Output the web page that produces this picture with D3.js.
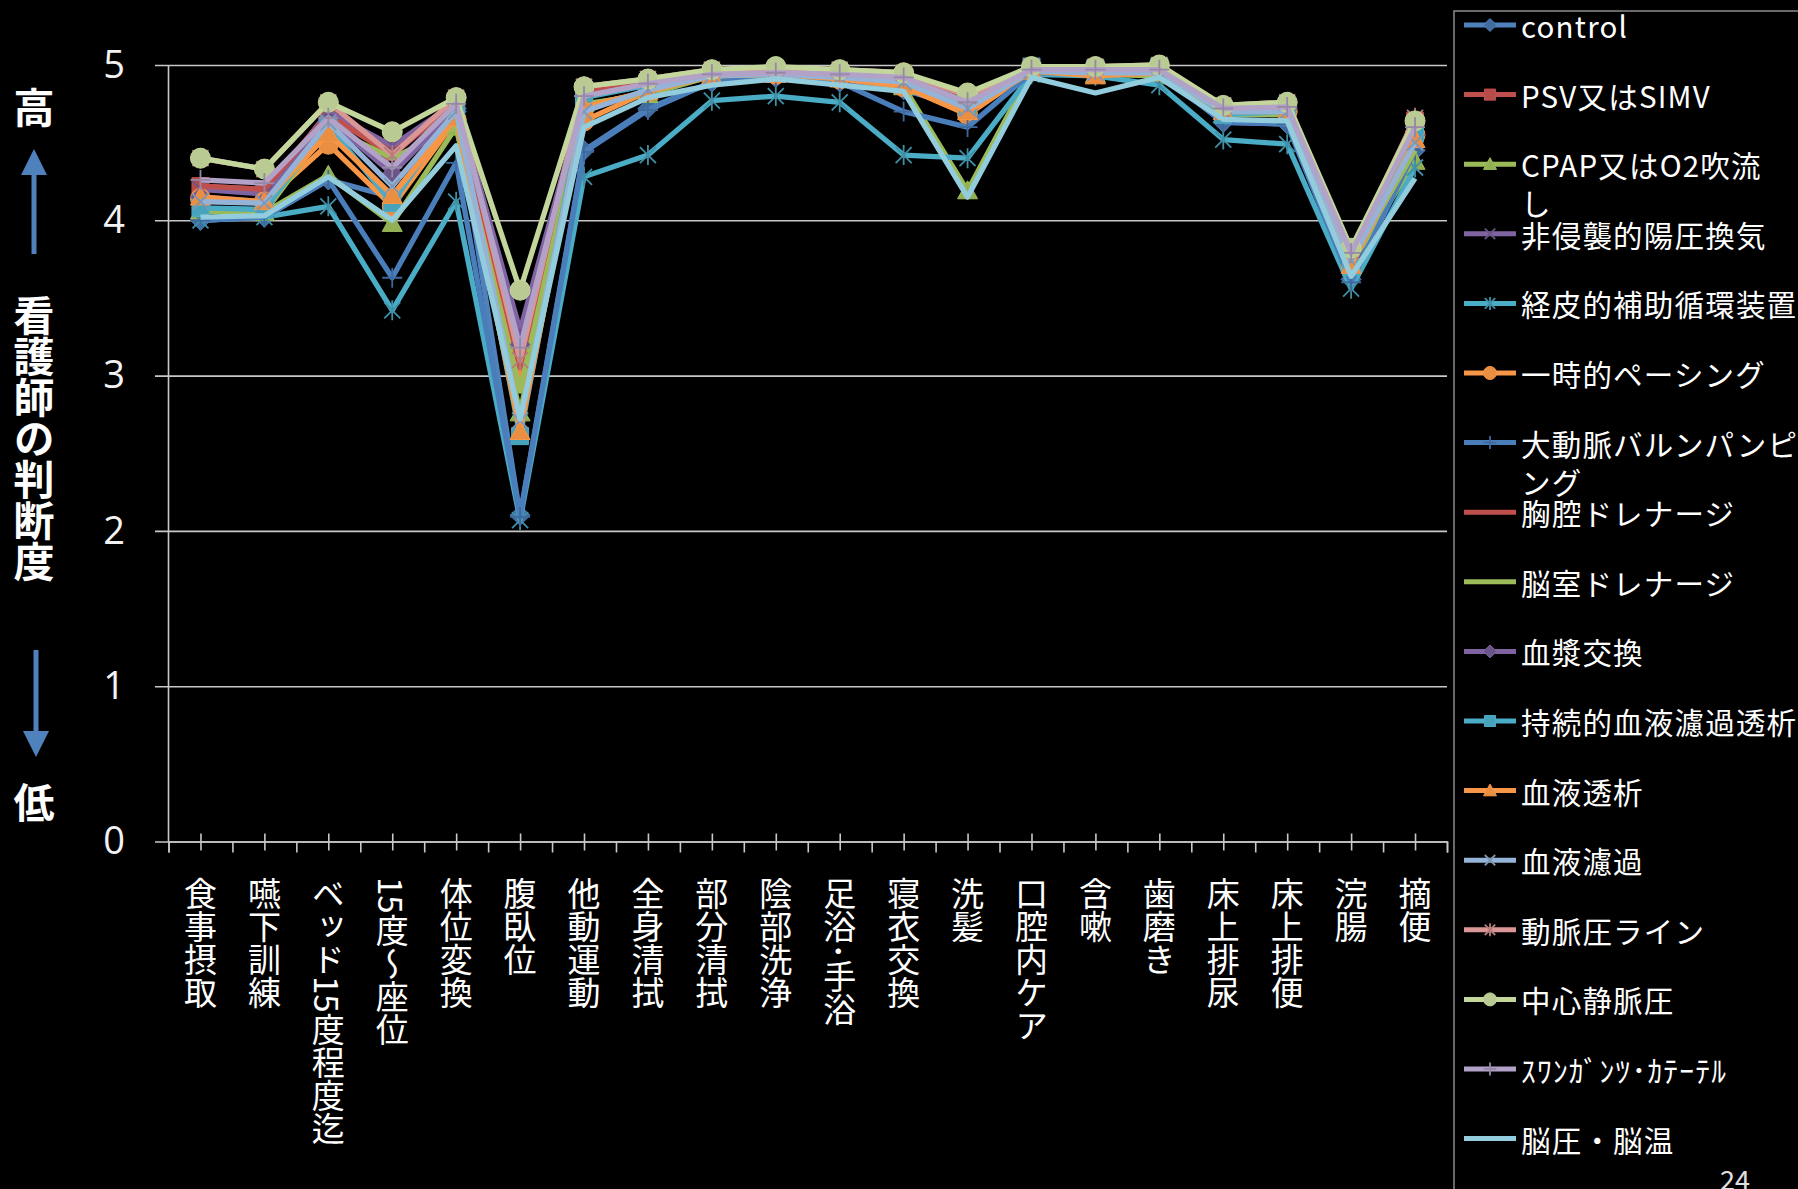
<!DOCTYPE html>
<html>
<head>
<meta charset="utf-8">
<script src="https://cdn.jsdelivr.net/npm/d3@7"></script>
<style>
  html, body { margin: 0; padding: 0; background: #000; }
  svg { display: block; }
  text { font-family: "Noto Sans CJK JP", "Noto Sans", sans-serif; fill: #fff; }
</style>
</head>
<body>
<svg id="chart" width="1798" height="1189"></svg>
<script>
// categories on the x axis
const categories = ["食事摂取", "嚥下訓練", "ベッド15度程度迄", "15度～座位", "体位変換", "腹臥位",
  "他動運動", "全身清拭", "部分清拭", "陰部洗浄", "足浴･手浴", "寝衣交換", "洗髪", "口腔内ケア",
  "含嗽", "歯磨き", "床上排尿", "床上排便", "浣腸", "摘便"];

const yTicks = [0, 1, 2, 3, 4, 5];

// series values
const control     = [4.00, 4.02, 4.26, 4.15, 4.70, 2.10, 4.45, 4.72, 4.89, 4.92, 4.89, 4.84, 4.72, 4.95, 4.95, 4.95, 4.63, 4.62, 3.62, 4.45];
const psvSimv     = [4.22, 4.20, 4.69, 4.44, 4.77, 3.06, 4.83, 4.89, 4.94, 4.95, 4.94, 4.92, 4.76, 4.97, 4.97, 4.97, 4.72, 4.73, 3.78, 4.64];
const cpap        = [4.06, 4.05, 4.29, 3.98, 4.60, 2.76, 4.75, 4.81, 4.93, 4.94, 4.92, 4.86, 4.19, 4.96, 4.94, 4.93, 4.68, 4.68, 3.72, 4.38];
const nppv        = [4.20, 4.17, 4.70, 4.48, 4.76, 3.29, 4.80, 4.88, 4.94, 4.95, 4.94, 4.91, 4.74, 4.97, 4.97, 4.97, 4.72, 4.72, 3.78, 4.55];
const pcps        = [4.00, 4.02, 4.09, 3.42, 4.12, 2.07, 4.28, 4.42, 4.77, 4.80, 4.76, 4.42, 4.40, 4.94, 4.93, 4.87, 4.52, 4.49, 3.56, 4.34];
const pacing      = [4.14, 4.12, 4.49, 4.09, 4.65, 2.97, 4.64, 4.83, 4.93, 4.94, 4.91, 4.86, 4.68, 4.96, 4.95, 4.96, 4.70, 4.70, 3.71, 4.55];
const iabp        = [4.00, 4.02, 4.26, 3.63, 4.37, 2.09, 4.44, 4.71, 4.89, 4.92, 4.89, 4.70, 4.60, 4.95, 4.95, 4.95, 4.63, 4.62, 3.60, 4.45];
const chestDrain  = [4.22, 4.20, 4.68, 4.42, 4.76, 3.05, 4.82, 4.88, 4.94, 4.95, 4.93, 4.91, 4.74, 4.97, 4.97, 4.96, 4.72, 4.72, 3.76, 4.60];
const ventDrain   = [4.06, 4.05, 4.60, 4.40, 4.60, 2.90, 4.74, 4.82, 4.93, 4.94, 4.92, 4.88, 4.72, 4.96, 4.94, 4.94, 4.70, 4.70, 3.74, 4.45];
const plasmaEx    = [4.15, 4.12, 4.65, 4.30, 4.72, 3.20, 4.80, 4.87, 4.94, 4.95, 4.93, 4.90, 4.72, 4.97, 4.96, 4.96, 4.70, 4.72, 3.76, 4.55];
const chdf        = [4.08, 4.07, 4.61, 4.11, 4.72, 2.61, 4.79, 4.87, 4.95, 4.96, 4.95, 4.92, 4.72, 4.99, 4.98, 4.99, 4.68, 4.70, 3.70, 4.56];
const hd          = [4.15, 4.12, 4.56, 4.16, 4.66, 2.64, 4.73, 4.83, 4.93, 4.94, 4.91, 4.87, 4.70, 4.96, 4.93, 4.95, 4.70, 4.70, 3.71, 4.52];
const hf          = [4.12, 4.11, 4.63, 4.22, 4.70, 2.71, 4.70, 4.84, 4.93, 4.94, 4.92, 4.89, 4.72, 4.96, 4.95, 4.95, 4.70, 4.70, 3.74, 4.50];
const arterial    = [4.40, 4.33, 4.76, 4.42, 4.79, 3.10, 4.86, 4.91, 4.97, 4.98, 4.97, 4.95, 4.80, 4.99, 4.99, 5.00, 4.74, 4.76, 3.80, 4.66];
const cvp         = [4.40, 4.33, 4.76, 4.57, 4.79, 3.55, 4.86, 4.91, 4.97, 4.99, 4.97, 4.95, 4.82, 4.99, 4.99, 5.00, 4.74, 4.76, 3.82, 4.64];
const swanGanz    = [4.26, 4.24, 4.66, 4.34, 4.75, 3.18, 4.80, 4.88, 4.94, 4.95, 4.94, 4.92, 4.76, 4.97, 4.97, 4.97, 4.72, 4.73, 3.79, 4.60];
const icp         = [4.02, 4.03, 4.28, 4.00, 4.48, 2.72, 4.60, 4.79, 4.87, 4.91, 4.87, 4.83, 4.15, 4.92, 4.82, 4.92, 4.65, 4.64, 3.64, 4.27];

const seriesNames = ["control", "PSV又はSIMV", "CPAP又はO2吹流し", "非侵襲的陽圧換気", "経皮的補助循環装置",
  "一時的ペーシング", "大動脈バルンパンピング", "胸腔ドレナージ", "脳室ドレナージ", "血漿交換",
  "持続的血液濾過透析", "血液透析", "血液濾過", "動脈圧ライン", "中心静脈圧", "ｽﾜﾝｶﾞﾝﾂ･ｶﾃｰﾃﾙ", "脳圧・脳温"];
const seriesValues = [control, psvSimv, cpap, nppv, pcps, pacing, iabp, chestDrain, ventDrain, plasmaEx,
  chdf, hd, hf, arterial, cvp, swanGanz, icp];

// look of each series (colour + marker)
const seriesColors = ["#4F81BD", "#C0504D", "#9BBB59", "#8064A2", "#4BACC6", "#F79646", "#4A7EBB", "#C0504D",
  "#9BBB59", "#8064A2", "#4BACC6", "#F79646", "#95B3D7", "#D99694", "#C3D69B", "#B3A2C7", "#93CDDD"];
const seriesMarkers = ["diamond", "square", "triangle", "x", "star", "circle", "plus", null, null, "diamond",
  "square", "triangle", "x", "star", "circle", "plus", null];
// legend labels wrap like the original box
const legendLines = {
  "CPAP又はO2吹流し": ["CPAP又はO2吹流", "し"],
  "大動脈バルンパンピング": ["大動脈バルンパンピ", "ング"]
};

const W = 1798, H = 1189;
const plot = { left: 168.5, right: 1447, top: 65, bottom: 841.5 };

const svg = d3.select("#chart");
svg.append("rect").attr("width", W).attr("height", H).attr("fill", "#000");

const x = d3.scalePoint().domain(categories).range([plot.left, plot.right]).padding(0.5);
const xb = d3.scaleLinear().domain([0, categories.length]).range([plot.left, plot.right]);
const y = d3.scaleLinear().domain([0, 5]).range([plot.bottom, plot.top]);

// gridlines + y labels
const gy = svg.append("g")
  .attr("transform", `translate(155,0)`)
  .call(d3.axisLeft(y).tickValues(yTicks).tickSize(-(plot.right - 155)).tickPadding(30).tickFormat(d3.format("d")));
gy.select(".domain").remove();
gy.selectAll(".tick line").attr("stroke", "#c8c8c8").attr("stroke-width", 1.6);
gy.selectAll(".tick text")
  .attr("text-anchor", "middle").attr("x", -41)
  .style("font-size", "38px").style("fill", "#f2f2f2").style("font-family", "'Open Sans','Noto Sans',sans-serif");

// vertical axis line
svg.append("line")
  .attr("x1", plot.left).attr("x2", plot.left)
  .attr("y1", y(5)).attr("y2", y(0))
  .attr("stroke", "#c8c8c8").attr("stroke-width", 1.6);

// x axis ticks: boundaries (below) and category centres (crossing)
const gx = svg.append("g")
  .attr("transform", `translate(0,${y(0)})`)
  .call(d3.axisBottom(xb).tickValues(d3.range(categories.length + 1)).tickSize(11).tickFormat(""));
gx.select(".domain").attr("stroke", "#c8c8c8").attr("stroke-width", 1.6);
gx.selectAll(".tick line").attr("stroke", "#c8c8c8").attr("stroke-width", 1.6);

const gx2 = svg.append("g")
  .attr("transform", `translate(0,${y(0)})`)
  .call(d3.axisBottom(x).tickSize(9).tickFormat(""));
gx2.select(".domain").remove();
gx2.selectAll(".tick line").attr("y1", -8).attr("stroke", "#c8c8c8").attr("stroke-width", 1.6);

// category labels, vertical writing
svg.append("g").selectAll("text")
  .data(categories)
  .join("text")
  .attr("x", d => x(d))
  .attr("y", 877)
  .style("writing-mode", "vertical-rl")
  .style("font-size", "33px")
  .text(d => d);

// marker paths
function markerPath(type, r) {
  switch (type) {
    case "diamond": return `M0,${-r}L${r},0L0,${r}L${-r},0Z`;
    case "square": return `M${-r * 0.85},${-r * 0.85}H${r * 0.85}V${r * 0.85}H${-r * 0.85}Z`;
    case "triangle": return `M0,${-r}L${r},${r * 0.8}L${-r},${r * 0.8}Z`;
    case "circle": return d3.symbol(d3.symbolCircle, Math.PI * r * r)();
    case "x": return `M${-r * 0.8},${-r * 0.8}L${r * 0.8},${r * 0.8}M${-r * 0.8},${r * 0.8}L${r * 0.8},${-r * 0.8}`;
    case "star": return `M${-r * 0.8},${-r * 0.8}L${r * 0.8},${r * 0.8}M${-r * 0.8},${r * 0.8}L${r * 0.8},${-r * 0.8}M0,${-r}V${r}`;
    case "plus": return `M${-r},0H${r}M0,${-r}V${r}`;
  }
  return "";
}
const openMarker = t => t === "x" || t === "star" || t === "plus";

function drawMarker(g, type, color, r) {
  const dark = d3.color(color).darker(0.5).formatHex();
  if (openMarker(type)) {
    g.append("path").attr("d", markerPath(type, r)).attr("fill", "none")
      .attr("stroke", dark).attr("stroke-width", 1.8);
  } else {
    g.append("path").attr("d", markerPath(type, r))
      .attr("fill", type === "diamond" ? dark : d3.color(color).darker(0.15).formatHex())
      .attr("stroke", color).attr("stroke-width", 1);
  }
}

// lines
const line = d3.line().x((d, i) => x(categories[i])).y(d => y(d));
seriesValues.forEach((vals, s) => {
  const g = svg.append("g");
  g.append("path").datum(vals)
    .attr("d", line)
    .attr("fill", "none")
    .attr("stroke", seriesColors[s])
    .attr("stroke-width", 5.3)
    .attr("stroke-linejoin", "round");
  if (seriesMarkers[s]) {
    vals.forEach((v, i) => {
      const m = g.append("g").attr("transform", `translate(${x(categories[i])},${y(v)})`);
      drawMarker(m, seriesMarkers[s], seriesColors[s], 10);
    });
  }
});

// y axis title with arrows
const ax = 34;
svg.append("text").attr("x", ax).attr("y", 105).attr("text-anchor", "middle").attr("dominant-baseline", "central")
  .style("font-size", "41px").style("font-weight", "bold").text("高");
svg.append("text").attr("x", ax).attr("y", 800).attr("text-anchor", "middle").attr("dominant-baseline", "central")
  .style("font-size", "41px").style("font-weight", "bold").text("低");
svg.append("text").attr("x", ax).attr("y", 295)
  .style("writing-mode", "vertical-rl").style("font-size", "41px").style("font-weight", "bold")
  .text("看護師の判断度");

const arrowColor = "#4F81BD";
svg.append("line").attr("x1", ax).attr("x2", ax).attr("y1", 254).attr("y2", 168)
  .attr("stroke", arrowColor).attr("stroke-width", 5);
svg.append("path").attr("d", `M${ax},149L${ax - 13},175L${ax + 13},175Z`).attr("fill", arrowColor);
svg.append("line").attr("x1", ax + 2).attr("x2", ax + 2).attr("y1", 650).attr("y2", 738)
  .attr("stroke", arrowColor).attr("stroke-width", 5);
svg.append("path").attr("d", `M${ax + 2},757L${ax - 11},731L${ax + 15},731Z`).attr("fill", arrowColor);

// legend
const lg = svg.append("g");
lg.append("rect").attr("x", 1454).attr("y", 11).attr("width", 400).attr("height", 1300)
  .attr("fill", "#000").attr("stroke", "#8c8c8c").attr("stroke-width", 1.5);
seriesNames.forEach((name, s) => {
  const ly = 25 + s * 69.6;
  const g = lg.append("g").attr("transform", `translate(0,${ly})`);
  g.append("line").attr("x1", 1464).attr("x2", 1516).attr("y1", 0).attr("y2", 0)
    .attr("stroke", seriesColors[s]).attr("stroke-width", 5);
  if (seriesMarkers[s]) {
    const m = g.append("g").attr("transform", "translate(1490,0)");
    drawMarker(m, seriesMarkers[s], seriesColors[s], 6.5);
  }
  const lines = legendLines[name] || [name];
  const t = g.append("text").attr("x", 1521).attr("y", 0).attr("dominant-baseline", "central")
    .style("font-size", "29.5px").style("letter-spacing", "1.2px");
  lines.forEach((l, k) => {
    t.append("tspan").attr("x", 1521).attr("dy", k === 0 ? 0 : 38).text(l);
  });
});

// page number
svg.append("text").attr("x", 1735).attr("y", 1190).attr("text-anchor", "middle")
  .style("font-size", "27px").style("fill", "#e0e0e0").text("24");
</script>
</body>
</html>
